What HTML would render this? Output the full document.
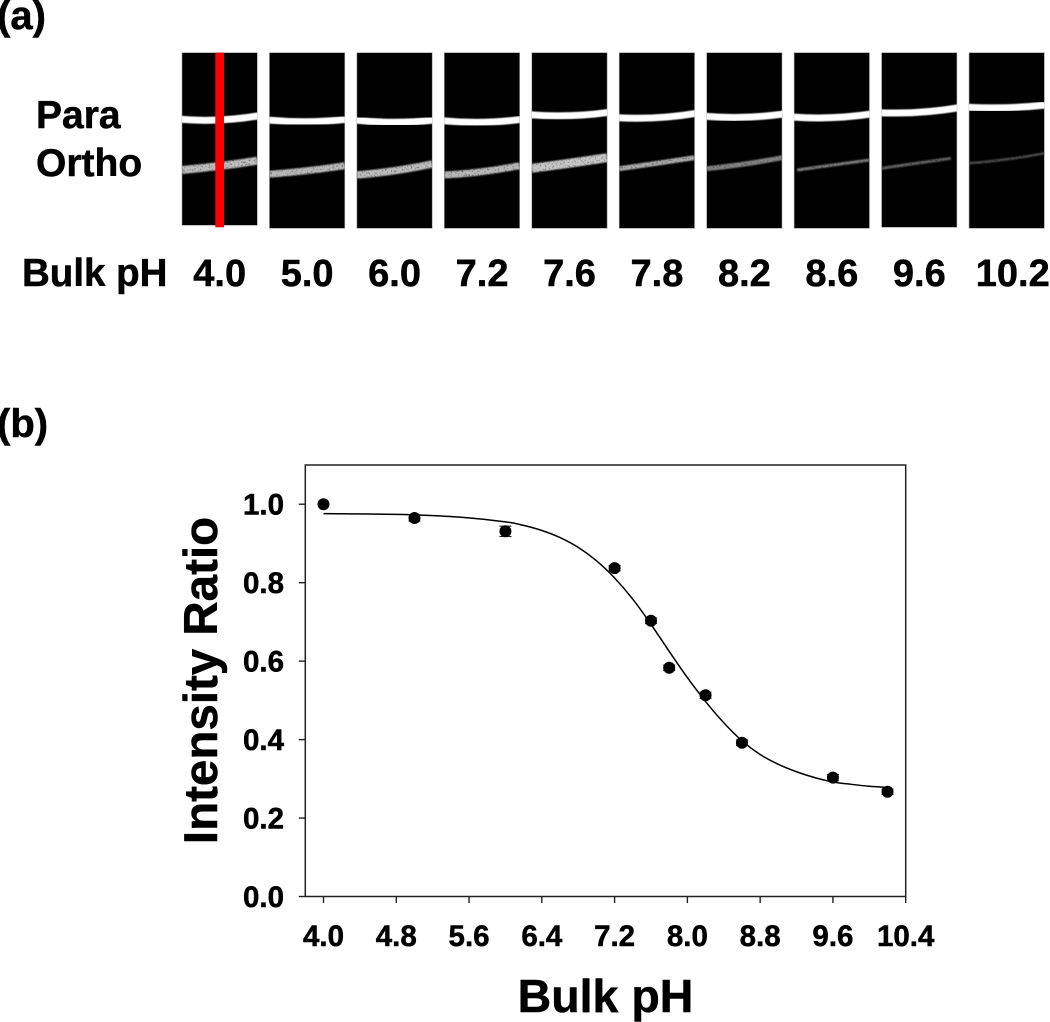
<!DOCTYPE html>
<html lang="en">
<head>
<meta charset="utf-8">
<title>Para/Ortho intensity ratio vs bulk pH</title>
<style>
html,body{margin:0;padding:0;background:#fff;width:1050px;height:1022px;overflow:hidden}
svg{display:block;filter:blur(0.35px)}
text{font-family:"Liberation Sans",Arial,sans-serif;font-weight:bold;fill:#000;stroke:#000;stroke-width:0.5px}
</style>
</head>
<body>
<svg id="fig" xmlns="http://www.w3.org/2000/svg" width="1050" height="1022" viewBox="0 0 1050 1022">
  <defs>
    <filter id="soft" x="-5%" y="-100%" width="110%" height="300%">
      <feGaussianBlur in="SourceGraphic" stdDeviation="0.7" result="b"/>
      <feTurbulence type="fractalNoise" baseFrequency="0.55" numOctaves="2" seed="7" result="n"/>
      <feColorMatrix in="n" type="matrix" values="0 0 0 0 0  0 0 0 0 0  0 0 0 0 0  1.6 0 0 0 0.25" result="a"/>
      <feComposite in="b" in2="a" operator="in"/>
    </filter>
    <filter id="softer" x="-5%" y="-100%" width="110%" height="300%"><feGaussianBlur stdDeviation="0.6"/></filter>
  </defs>
  <text x="-3" y="29" font-size="40">(a)</text>
  <text x="36" y="128" font-size="39">Para</text>
  <text x="36" y="176" font-size="39">Ortho</text>
  <text x="22" y="286" font-size="38.5">Bulk pH</text>
  <g id="strips"></g>
  <rect x="215.3" y="52.7" width="8.7" height="174.6" fill="#fe0000"/>
  <text x="-3" y="437" font-size="40">(b)</text>
  <g id="chart"></g>
  <text x="605.5" y="1012" font-size="46.5" text-anchor="middle">Bulk pH</text>
  <text transform="translate(217,680.5) rotate(-90)" font-size="47.5" text-anchor="middle">Intensity Ratio</text>
</svg>
<script>
// Panel (a) strip labels and band readings
const stripLabels = ['4.0','5.0','6.0','7.2','7.6','7.8','8.2','8.6','9.6','10.2'];
const paraLeft  = [119.3,120,120,120.7,114.7,117.7,116.3,117,112.7,107.3];
const paraMid   = [120,121.7,122.3,122.3,115.7,117.7,117.3,117.7,112.3,107.7];
const paraRight = [115.7,119.3,120,119.3,112.3,113.3,114,114,107.7,105];
const orthoLeft  = [170,174.3,175,175,168.3,168.7,168.7,170,168.3,163.3];
const orthoMid   = [166,170.7,170.7,171.7,163.3,163.3,164,165,163.3,159.3];
const orthoRight = [160.7,165.7,164,165.7,157.7,157.7,157.7,160,158.3,153.3];
const orthoWidth = [8,7,7.5,7,9,5,5,3,3,2.5];
const orthoGray  = [190,185,190,185,200,170,130,125,100,80];

// Panel (b) chart data
const phValues = [4.0,5.0,6.0,7.2,7.6,7.8,8.2,8.6,9.6,10.2];
const ratioValues = [1.0,0.965,0.931,0.837,0.703,0.583,0.513,0.392,0.303,0.267];
const ratioErrors = [0,0.008,0.013,0.007,0.007,0.007,0.008,0.007,0.008,0.007];
const fitPh = [4.0,4.5,5.0,5.5,6.0,6.2,6.4,6.6,6.8,7.0,7.2,7.4,7.6,7.8,8.0,8.2,8.4,8.6,8.8,9.0,9.2,9.4,9.6,9.8,10.0,10.2];
const fitRatio = [0.976,0.975,0.973,0.967,0.955,0.946,0.933,0.915,0.890,0.856,0.812,0.758,0.694,0.625,0.558,0.497,0.443,0.397,0.362,0.337,0.318,0.303,0.292,0.286,0.281,0.278];
const xTicks = [4.0,4.8,5.6,6.4,7.2,8.0,8.8,9.6,10.4];
const xTickLabels = ['4.0','4.8','5.6','6.4','7.2','8.0','8.8','9.6','10.4'];
const yTicks = [0,0.2,0.4,0.6,0.8,1.0];
const yTickLabels = ['0.0','0.2','0.4','0.6','0.8','1.0'];

const NS = 'http://www.w3.org/2000/svg';
function make(tag, attrs, parent){
  const el = document.createElementNS(NS, tag);
  for (const k in attrs) el.setAttribute(k, attrs[k]);
  parent.appendChild(el);
  return el;
}

// ---------- strips ----------
const stripsG = document.getElementById('strips');
const STRIP_W = 75.3, STRIP_STEP = 87.45, STRIP_X0 = 182, STRIP_TOP = 52.7;
const labelCentres = STRIP_X0 + 37.7;
function bandPath(x0, x1, l, m, r){
  const ctrl = 2*m - (l+r)/2;
  return 'M'+x0+' '+l+' Q'+((x0+x1)/2)+' '+ctrl+' '+x1+' '+r;
}
stripLabels.forEach(function(label,i){
  const x = STRIP_X0 + i*STRIP_STEP;
  const bottom = i === 0 ? 225.3 : (i === 8 ? 227.3 : 228.3);
  const clipId = 'clip'+i;
  const cp = make('clipPath',{id:clipId},stripsG);
  make('rect',{x:x,y:STRIP_TOP,width:STRIP_W,height:bottom-STRIP_TOP},cp);

  const bg = make('rect',{x:x,y:STRIP_TOP,width:STRIP_W,height:bottom-STRIP_TOP,fill:'#000',stroke:'#999','stroke-width':0.6},stripsG);
  
  

  const g = make('g',{'clip-path':'url(#'+clipId+')'},stripsG);
  const ortho = make('path',{
    d:bandPath(x + (i===7?3:0), x+STRIP_W-(i===8?6:0), orthoLeft[i], orthoMid[i], orthoRight[i]),
    fill:'none',
    stroke:'rgb('+orthoGray[i]+','+orthoGray[i]+','+orthoGray[i]+')',
    'stroke-width':orthoWidth[i],
    filter:'url(#soft)'
  },g);
  
  

  const para = make('path',{
    d:bandPath(x-2, x+STRIP_W+2, paraLeft[i], paraMid[i], paraRight[i]),
    fill:'none',stroke:'#fff','stroke-width':7,filter:'url(#softer)'
  },g);
  
  

  const t = make('text',{x:labelCentres + i*STRIP_STEP + (i===9?6:0),y:286,'font-size':38,'text-anchor':'middle'},stripsG);
  t.textContent = label;
  
  
});

// ---------- chart ----------
const chart = document.getElementById('chart');
const PLOT = {left:305.3,right:905.7,top:465,bottom:896.5};
const X_MIN = 3.8, X_MAX = 10.4, Y_MIN = 0, Y_MAX = 1.1;
function xScale(v){ return PLOT.left + (v-X_MIN)/(X_MAX-X_MIN)*(PLOT.right-PLOT.left); }
function yScale(v){ return PLOT.bottom - (v-Y_MIN)/(Y_MAX-Y_MIN)*(PLOT.bottom-PLOT.top); }
const AXIS = '#222';

const frame = make('rect',{x:PLOT.left,y:PLOT.top,width:PLOT.right-PLOT.left,height:PLOT.bottom-PLOT.top,fill:'none',stroke:AXIS,'stroke-width':1.5},chart);



xTicks.forEach(function(v,i){
  const x = xScale(v);
  const tick = make('line',{x1:x,x2:x,y1:PLOT.bottom,y2:PLOT.bottom+6.5,stroke:AXIS,'stroke-width':1.4},chart);
  
  
  const t = make('text',{x:x,y:946,'font-size':29.5,'text-anchor':'middle'},chart);
  t.textContent = xTickLabels[i];
  
  
});
yTicks.forEach(function(v,i){
  const y = yScale(v);
  const tick = make('line',{x1:PLOT.left-6.5,x2:PLOT.left,y1:y,y2:y,stroke:AXIS,'stroke-width':1.4},chart);
  
  
  const t = make('text',{x:284,y:y+10.5,'font-size':29.5,'text-anchor':'end'},chart);
  t.textContent = yTickLabels[i];
  
  
});

// smooth fit curve through the read points (Catmull-Rom)
const pts = fitPh.map(function(p,i){ return [xScale(p), yScale(fitRatio[i])]; });
let d = 'M'+pts[0][0].toFixed(2)+' '+pts[0][1].toFixed(2);
for (let i=0;i<pts.length-1;i++){
  const p0 = pts[Math.max(i-1,0)], p1 = pts[i], p2 = pts[i+1], p3 = pts[Math.min(i+2,pts.length-1)];
  const c1x = p1[0]+(p2[0]-p0[0])/6, c1y = p1[1]+(p2[1]-p0[1])/6;
  const c2x = p2[0]-(p3[0]-p1[0])/6, c2y = p2[1]-(p3[1]-p1[1])/6;
  d += ' C'+c1x.toFixed(2)+' '+c1y.toFixed(2)+' '+c2x.toFixed(2)+' '+c2y.toFixed(2)+' '+p2[0].toFixed(2)+' '+p2[1].toFixed(2);
}
const fit = make('path',{d:d,fill:'none',stroke:'#000','stroke-width':1.5},chart);



phValues.forEach(function(p,i){
  const cx = xScale(p);
  if (ratioErrors[i] > 0){
    const top = yScale(ratioValues[i]+ratioErrors[i]);
    const bot = yScale(ratioValues[i]-ratioErrors[i]);
    const eb = make('path',{
      d:'M'+(cx-6)+' '+top+' H'+(cx+6)+' M'+cx+' '+top+' V'+bot+' M'+(cx-6)+' '+bot+' H'+(cx+6),
      fill:'none',stroke:'#222','stroke-width':1.1
    },chart);
    
    
  }
  const c = make('circle',{cx:cx,cy:yScale(ratioValues[i]),r:6,fill:'#000'},chart);
  
  
});
</script>
</body>
</html>
